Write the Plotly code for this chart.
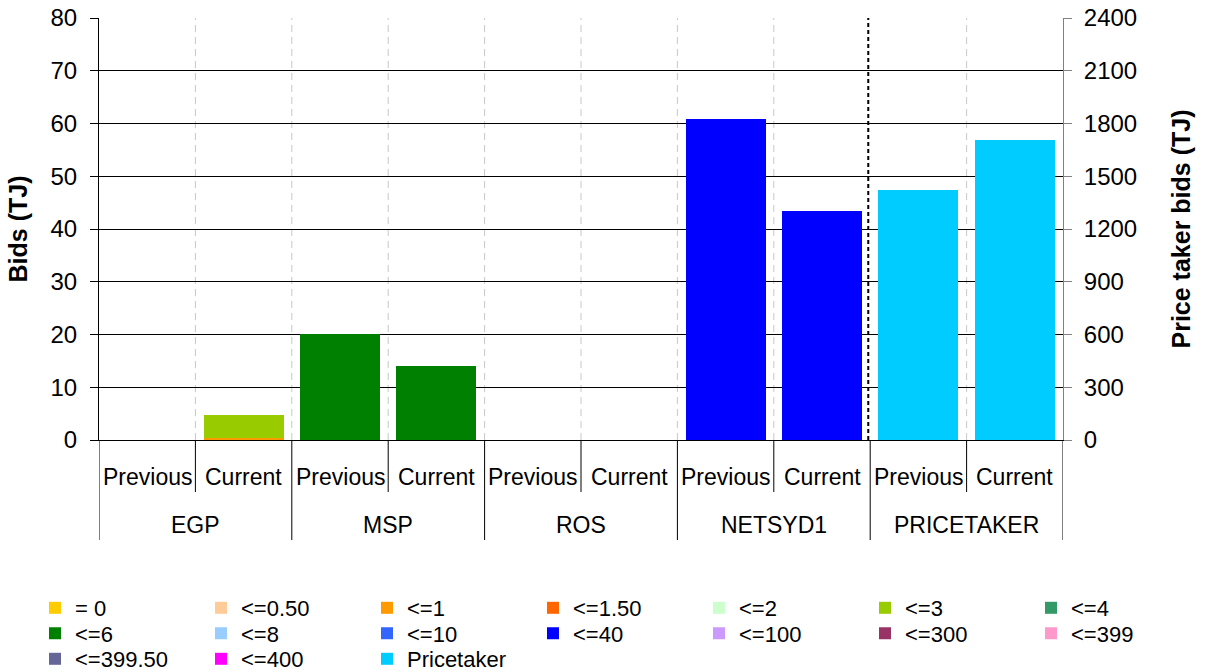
import plotly.graph_objects as go

# ---------------- data ----------------
groups = ["EGP", "MSP", "ROS", "NETSYD1", "PRICETAKER"]
periods = ["Previous", "Current"]

band_names = ["= 0", "<=0.50", "<=1", "<=1.50", "<=2", "<=3", "<=4", "<=6",
              "<=8", "<=10", "<=40", "<=100", "<=300", "<=399", "<=399.50",
              "<=400", "Pricetaker"]
band_colors = ["#FFCC00", "#FFCC99", "#FF9900", "#FF6600", "#CCFFCC", "#99CC00",
               "#339966", "#008000", "#99CCFF", "#3366FF", "#0000FF", "#CC99FF",
               "#993366", "#FF99CC", "#666699", "#FF00FF", "#00CCFF"]

# slot order: EGP Prev, EGP Cur, MSP Prev, MSP Cur, ROS Prev, ROS Cur,
#             NETSYD1 Prev, NETSYD1 Cur, PRICETAKER Prev, PRICETAKER Cur
no_bids = [0, 0, 0, 0, 0, 0, 0, 0, 0, 0]
bids_le_1 = [0, 0.4, 0, 0, 0, 0, 0, 0, 0, 0]
bids_le_3 = [0, 4.3, 0, 0, 0, 0, 0, 0, 0, 0]
bids_le_6 = [0, 0, 20.1, 14.0, 0, 0, 0, 0, 0, 0]
bids_le_40 = [0, 0, 0, 0, 0, 0, 60.8, 43.4, 0, 0]
pricetaker_bids = [0, 0, 0, 0, 0, 0, 0, 0, 1422, 1706]

band_values = {"<=1": bids_le_1, "<=3": bids_le_3, "<=6": bids_le_6,
               "<=40": bids_le_40, "Pricetaker": pricetaker_bids}

left_ticks = [0, 10, 20, 30, 40, 50, 60, 70, 80]
right_ticks = [0, 300, 600, 900, 1200, 1500, 1800, 2100, 2400]

# ---------------- layout geometry ----------------
W, H = 1206, 672
ML, MR, MT, MB = 99, 143, 18, 232
PW, PH = W - ML - MR, H - MT - MB
FONT = "Liberation Sans, Arial, sans-serif"


def px_x(px):
    return (px - ML) / PW


def px_y(py):
    return (H - MB - py) / PH


n_slots = len(groups) * len(periods)
slots = list(range(n_slots))

fig = go.Figure()

for i, (name, color) in enumerate(zip(band_names, band_colors)):
    vals = band_values.get(name, no_bids)
    lg = "legend" if i == 0 else f"legend{i + 1}"
    fig.add_trace(go.Bar(
        x=slots, y=vals, name=name, marker_color=color,
        marker_line_width=0, width=0.83,
        yaxis="y2" if name == "Pricetaker" else "y",
        legend=lg, showlegend=True,
    ))

# one legend per entry, laid out in a 7-column grid
legend_layouts = {}
for i in range(len(band_names)):
    col, row = i % 7, i // 7
    lg = "legend" if i == 0 else f"legend{i + 1}"
    legend_layouts[lg] = dict(
        x=px_x(35 + 166 * col), xanchor="left",
        y=px_y(608 + 25.5 * row), yanchor="middle",
        orientation="v", bgcolor="rgba(0,0,0,0)", borderwidth=0,
        font=dict(family=FONT, size=22, color="#000"),
    )

shapes = []
# vertical dashed gridlines at slot boundaries
for k in range(n_slots - 1):
    xb = k + 0.5
    if k == 7:
        shapes.append(dict(type="line", xref="x", yref="paper", x0=xb - 0.02, x1=xb - 0.02,
                           y0=0, y1=1, line=dict(color="#000", width=2, dash="4px,3px"),
                           layer="above"))
    else:
        shapes.append(dict(type="line", xref="x", yref="paper", x0=xb, x1=xb,
                           y0=0, y1=1, line=dict(color="#c8c8c8", width=1, dash="7px,5px"),
                           layer="below"))
# category table lines below axis
for k in range(-1, n_slots):
    xb = k + 0.5
    is_group_edge = (k + 1) % 2 == 0
    y_end = px_y(540) if is_group_edge else px_y(492)
    shapes.append(dict(type="line", xref="x", yref="paper", x0=xb, x1=xb,
                       y0=0, y1=y_end, line=dict(color="#000", width=1)))

annotations = []
for gi, g in enumerate(groups):
    for pi, p in enumerate(periods):
        s = gi * 2 + pi
        annotations.append(dict(x=s, y=px_y(477), xref="x", yref="paper", text=p,
                                showarrow=False, xanchor="center", yanchor="middle",
                                font=dict(family=FONT, size=23, color="#000")))
    annotations.append(dict(x=gi * 2 + 0.5, y=px_y(525), xref="x", yref="paper", text=g,
                            showarrow=False, xanchor="center", yanchor="middle",
                            font=dict(family=FONT, size=23, color="#000")))

fig.update_layout(
    width=W, height=H,
    margin=dict(l=ML, r=MR, t=MT, b=MB, autoexpand=False),
    paper_bgcolor="white", plot_bgcolor="white",
    barmode="stack", bargap=0.17,
    font=dict(family=FONT, size=23, color="#000"),
    xaxis=dict(range=[-0.5, n_slots - 0.5], showticklabels=False, ticks="",
               showgrid=False, zeroline=False, showline=True, linecolor="#000",
               linewidth=1, fixedrange=True),
    yaxis=dict(range=[0, 80], tickvals=left_ticks, ticks="outside", ticklen=8,
               tickcolor="#000", showline=True, linecolor="#000", linewidth=1,
               showgrid=True, gridcolor="#000", gridwidth=1, zeroline=False,
               ticklabelstandoff=8,
               tickfont=dict(family=FONT, size=24, color="#000"),
               title=dict(text="<b>Bids (TJ)</b>", standoff=15,
                          font=dict(family=FONT, size=25, color="#000"))),
    yaxis2=dict(range=[0, 2400], tickvals=right_ticks, ticks="outside", ticklen=8,
                tickcolor="#808080", showline=True, linecolor="#808080", linewidth=1,
                showgrid=False, zeroline=False, overlaying="y", side="right", anchor="x",
                ticklabelstandoff=7,
                tickfont=dict(family=FONT, size=24, color="#000"),
                title=dict(text="<b>Price taker bids (TJ)</b>", standoff=36,
                           font=dict(family=FONT, size=25, color="#000"))),
    shapes=shapes,
    annotations=annotations,
    showlegend=True,
    **legend_layouts,
)

fig.write_html("out.html")
